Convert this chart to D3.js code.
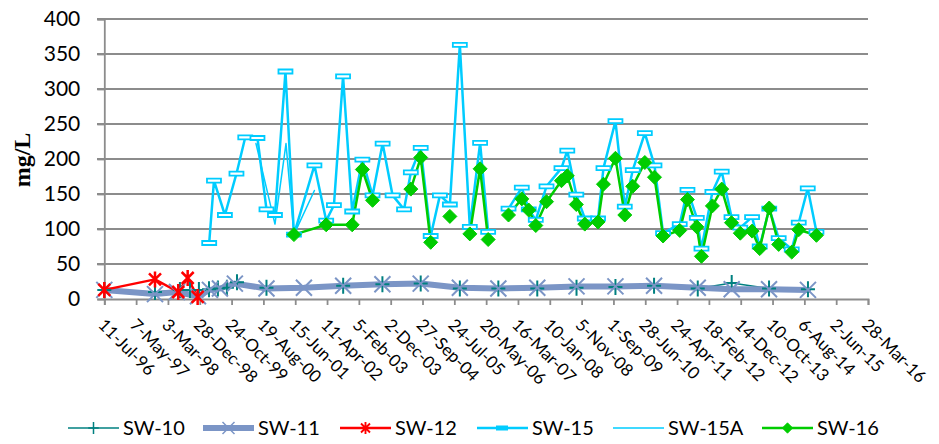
<!DOCTYPE html>
<html>
<head>
<meta charset="utf-8">
<script src="https://cdn.jsdelivr.net/npm/d3@7"></script>
<style>
body { margin: 0; background: #fff; }
</style>
</head>
<body>
<script>
// values, mg/L
var sw10Dates = ["1996-07-11","1997-11-01","1998-06-24","1998-09-27","1998-12-20","1999-03-25","1999-06-17","1999-09-10","1999-12-14","2000-09-17","2002-09-10","2003-09-15","2004-09-10","2005-09-14","2006-09-12","2007-09-14","2008-09-18","2009-09-20","2010-09-19","2011-11-05","2012-09-20","2013-09-07","2014-09-09"];
var sw10Values = [13,10,13,13,13,14,15,16,24,16,19,21,22,15,15,15,16,17,19,15,23,15,14];

var sw11Dates = ["1996-07-11","1997-11-01","1998-05-27","1998-12-11","1999-04-03","1999-07-06","1999-11-24","2000-09-17","2001-09-05","2002-09-10","2003-09-15","2004-09-10","2005-09-14","2006-09-12","2007-09-14","2008-09-18","2009-09-20","2010-09-19","2011-11-05","2012-09-20","2013-09-07","2014-09-09"];
var sw11Values = [13,7,10,4,13,15,22,15,16,19,21,22,16,15,16,18,18,19,16,14,14,13];

var sw12Dates = ["1996-07-11","1997-11-01","1998-06-08","1998-09-05","1998-12-08"];
var sw12Values = [13,28,10,30,3];

var sw15Dates = ["1999-03-27","1999-05-11","1999-08-22","1999-12-09","2000-03-01","2000-06-24","2000-09-17","2000-12-06","2001-03-15","2001-06-03",
  "2001-12-13","2002-04-03","2002-06-15","2002-09-09","2002-12-04","2003-03-10","2003-06-14","2003-09-17","2003-12-20","2004-04-06",
  "2004-06-09","2004-09-10","2004-12-13","2005-03-10","2005-06-12","2005-09-14","2005-12-17","2006-03-24","2006-06-08","2006-09-12",
  "2006-12-17","2007-04-21","2007-06-26","2007-08-31","2007-12-10","2008-04-29","2008-06-23","2008-09-16","2008-12-05","2009-04-09",
  "2009-05-30","2009-09-20","2009-12-17","2010-03-02","2010-06-24","2010-09-23","2010-12-13","2011-05-19","2011-07-31","2011-10-27",
  "2011-12-10","2012-03-22","2012-06-18","2012-09-18","2012-12-10","2013-03-31","2013-06-11","2013-09-09","2013-12-07","2014-04-09",
  "2014-06-14","2014-09-07","2014-11-28"];
var sw15Values = [80,169,120,179,231,230,128,120,325,92,
  191,112,134,318,125,199,148,222,148,128,
  181,216,90,148,135,363,103,223,96,null,
  129,159,128,113,161,187,212,149,115,115,
  187,254,132,184,237,191,94,107,156,116,
  72,153,182,117,102,117,75,129,87,71,
  109,158,96];

var sw15aDates = ["2000-06-10","2000-12-06","2001-03-20","2001-06-03","2001-12-13"];
var sw15aValues = [222,107,222,92,155];

var sw16Dates = ["2001-06-03","2002-04-03","2002-12-04","2003-03-10","2003-06-14","2003-09-17","2004-06-09","2004-09-10","2004-12-13","2005-03-10",
  "2005-06-12","2005-09-14","2005-12-17","2006-03-24","2006-06-08","2006-09-12","2006-12-17","2007-04-21","2007-06-26","2007-08-31",
  "2007-12-10","2008-04-29","2008-06-23","2008-09-16","2008-12-05","2009-04-09","2009-05-30","2009-09-20","2009-12-17","2010-03-02",
  "2010-06-24","2010-09-23","2010-12-13","2011-05-19","2011-07-31","2011-10-27","2011-12-10","2012-03-22","2012-06-18","2012-09-18",
  "2012-12-10","2013-03-31","2013-06-11","2013-09-09","2013-12-07","2014-04-09","2014-06-14","2014-11-28"];
var sw16Values = [92,106,106,185,141,null,157,202,81,null,
  118,null,93,186,85,null,120,143,127,105,
  139,169,176,135,107,110,164,201,120,161,
  195,174,90,98,142,103,61,133,157,109,
  94,97,72,130,78,67,99,91];

var yTicks = [0,50,100,150,200,250,300,350,400];
var xStart = "1996-07-11", xEnd = "2016-03-28", xStepDays = 300;

var parse = d3.utcParse("%Y-%m-%d");
var fmt = d3.utcFormat("%-d-%b-%y");

function zip(dates, vals) {
  return dates.map(function(d, i) { return {date: parse(d), v: vals[i]}; });
}

var series = [
  {name: "SW-10", data: zip(sw10Dates, sw10Values), color: "#008080", width: 1.5, marker: "plus"},
  {name: "SW-11", data: zip(sw11Dates, sw11Values), color: "#7b95c6", width: 6, marker: "cross"},
  {name: "SW-12", data: zip(sw12Dates, sw12Values), color: "#ff0000", width: 2.5, marker: "star"},
  {name: "SW-15", data: zip(sw15Dates, sw15Values), color: "#00ccff", width: 2.5, marker: "dash"},
  {name: "SW-15A", data: zip(sw15aDates, sw15aValues), color: "#00ccff", width: 1.5, marker: null},
  {name: "SW-16", data: zip(sw16Dates, sw16Values), color: "#00cc00", width: 2.5, marker: "diamond"}
];

var svg = d3.select("body")
  .append("svg")
  .attr("width", 939)
  .attr("height", 444);

var x = d3.scaleUtc()
  .domain([parse(xStart), parse(xEnd)])
  .range([104.3, 868]);

var y = d3.scaleLinear()
  .domain([0, 400])
  .range([299, 19]);

var gridColor = "#8c8c8c";

// horizontal gridlines (they stick out left of the axis like tick marks)
svg.append("g")
  .selectAll("line")
  .data(yTicks.filter(function(t) { return t > 0; }))
  .enter().append("line")
  .attr("x1", 97).attr("x2", 868)
  .attr("y1", function(d) { return y(d); })
  .attr("y2", function(d) { return y(d); })
  .attr("stroke", gridColor)
  .attr("stroke-width", 1.8);

// y axis
var yAxis = svg.append("g")
  .attr("transform", "translate(104.3,0)")
  .call(d3.axisLeft(y).tickValues(yTicks).tickSize(7).tickPadding(17));
yAxis.select(".domain").attr("stroke", gridColor).attr("stroke-width", 1.8);
yAxis.selectAll(".tick line").attr("stroke", gridColor).attr("stroke-width", 1.8);
yAxis.selectAll("text")
  .attr("font-family", "Lato, 'Open Sans', sans-serif")
  .attr("font-size", 21)
  .attr("fill", "#000");

// x axis, ticks every 300 days like the excel date axis
var xTickDates = [];
for (var t = parse(xStart); t <= parse(xEnd); t = d3.utcDay.offset(t, xStepDays)) xTickDates.push(t);

var xAxis = svg.append("g")
  .attr("transform", "translate(0,299)")
  .call(d3.axisBottom(x).tickValues(xTickDates).tickSize(6).tickFormat(""));
xAxis.select(".domain").attr("stroke", gridColor).attr("stroke-width", 1.8);
xAxis.selectAll(".tick line").attr("stroke", gridColor).attr("stroke-width", 1.8);

svg.append("g")
  .selectAll("text")
  .data(xTickDates)
  .enter().append("text")
  .attr("transform", function(d) { return "translate(" + (x(d) - 7) + ",326) rotate(45)"; })
  .attr("font-family", "Lato, 'Open Sans', sans-serif")
  .attr("font-size", 17)
  .attr("fill", "#000")
  .text(function(d) { return fmt(d); });

// y title
svg.append("text")
  .attr("transform", "translate(30,160) rotate(-90)")
  .attr("text-anchor", "middle")
  .attr("font-family", "'Liberation Serif', 'Times New Roman', serif")
  .attr("font-weight", "bold")
  .attr("font-size", 24)
  .text("mg/L");

// marker shapes
function markerPath(type) {
  if (type == "plus") return "M-7,0H7M0,-8V8";
  if (type == "cross") return "M-8,-8L8,8M-8,8L8,-8";
  if (type == "star") return "M-6,-6L6,6M-6,6L6,-6M0,-8V8";
  if (type == "diamond") return "M0,-7L7,0L0,7L-7,0Z";
  if (type == "dash") return "M-7,-2H7V2H-7Z";
  return null;
}

function drawMarker(g, type, color) {
  var p = g.append("path").attr("d", markerPath(type));
  if (type == "diamond") p.attr("fill", color).attr("stroke", color).attr("stroke-width", 1);
  else if (type == "dash") p.attr("fill", "#fff").attr("stroke", color).attr("stroke-width", 1.8);
  else p.attr("fill", "none").attr("stroke", color).attr("stroke-width", type == "star" ? 2.5 : 2);
}

var line = d3.line()
  .defined(function(d) { return d.v != null; })
  .x(function(d) { return x(d.date); })
  .y(function(d) { return y(d.v); });

var plot = svg.append("g");

// lines first, then markers on top
series.forEach(function(s) {
  plot.append("path")
    .datum(s.data)
    .attr("fill", "none")
    .attr("stroke", s.color)
    .attr("stroke-width", s.width)
    .attr("stroke-linejoin", "round")
    .attr("stroke-linecap", "round")
    .attr("d", line);
});

series.forEach(function(s) {
  if (!s.marker) return;
  plot.append("g")
    .selectAll("g")
    .data(s.data.filter(function(d) { return d.v != null; }))
    .enter().append("g")
    .attr("transform", function(d) { return "translate(" + x(d.date) + "," + y(d.v) + ")"; })
    .each(function() { drawMarker(d3.select(this), s.marker, s.color); });
});

// legend
var legendX = [68, 203, 340, 477, 613, 762];
var legend = svg.append("g");
series.forEach(function(s, i) {
  var g = legend.append("g").attr("transform", "translate(" + legendX[i] + ",428)");
  g.append("line")
    .attr("x1", 0).attr("x2", 51)
    .attr("stroke", s.color)
    .attr("stroke-width", s.width);
  if (s.marker == "dash") {
    g.append("rect").attr("x", 19).attr("y", -2.5).attr("width", 12).attr("height", 5).attr("fill", s.color);
  } else if (s.marker) {
    var m = g.append("g").attr("transform", "translate(25.5,0) scale(0.75)");
    drawMarker(m, s.marker, s.color);
  }
  g.append("text")
    .attr("x", 55)
    .attr("y", 7)
    .attr("font-family", "Lato, 'Open Sans', sans-serif")
    .attr("font-size", 20)
    .attr("fill", "#000")
    .text(s.name);
});
</script>
</body>
</html>
